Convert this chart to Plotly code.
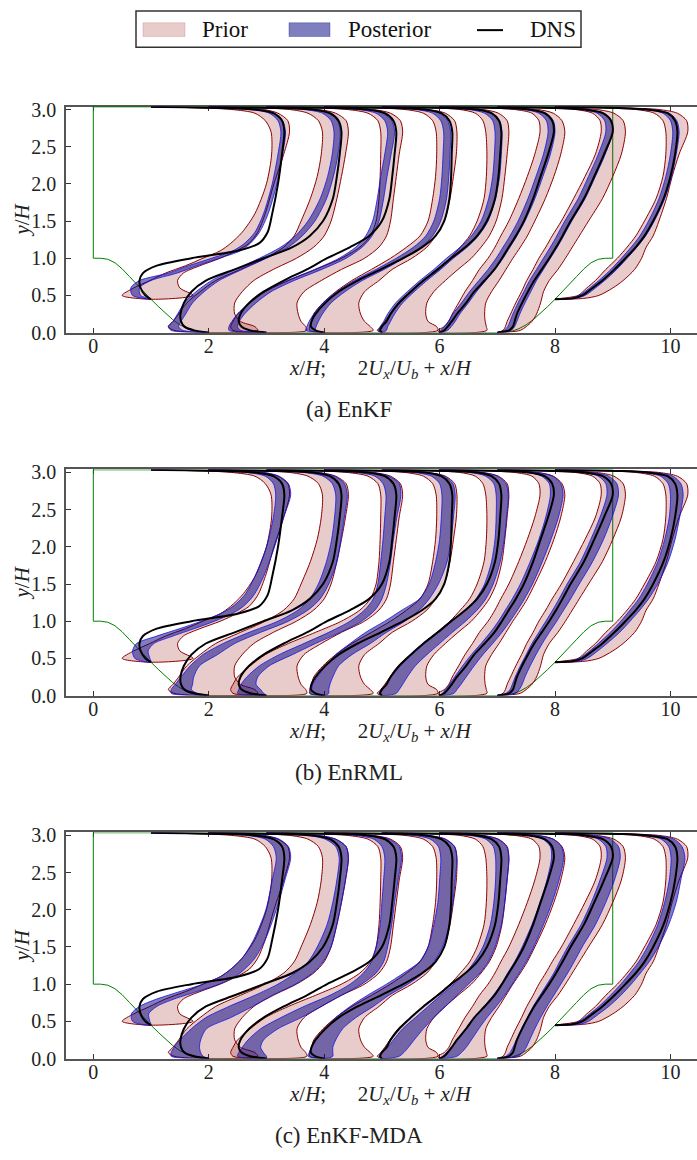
import plotly.graph_objects as go

FIG_W, FIG_H = 697, 1160
FONT = "Liberation Serif"

# ---------------- data ----------------
# profile stations x/H
x_stations = [1, 2, 3, 4, 5, 6, 7, 8]

# y/H sampling of the profiles
y_st1 = [0.448, 0.5, 0.6, 0.7, 0.8, 0.9, 1.0, 1.1, 1.2, 1.35, 1.6, 2.0, 2.4, 2.7, 2.85, 2.95, 3.0, 3.02, 3.036]
y_flat = [0.0, 0.03, 0.08, 0.15, 0.25, 0.4, 0.55, 0.7, 0.85, 1.0, 1.15, 1.3, 1.5, 1.8, 2.1, 2.4, 2.7, 2.85,
          2.95, 3.0, 3.02, 3.036]
y_st8 = [0.448, 0.46, 0.5, 0.6, 0.7, 0.85, 1.0, 1.15, 1.3, 1.5, 1.8, 2.1, 2.4, 2.7, 2.85, 2.95, 3.0, 3.02, 3.036]
y_grids = [y_st1, y_flat, y_flat, y_flat, y_flat, y_flat, y_flat, y_st8]

# DNS, scaled velocity 2Ux/Ub
dns_2u = [
    [0, -0.1, -0.18, -0.2, -0.14, 0.1, 0.7, 1.5, 1.87, 2.02, 2.1, 2.2, 2.27, 2.31, 2.27, 2.12, 1.8, 1.2, 0],
    [0, -0.25, -0.42, -0.48, -0.49, -0.43, -0.3, -0.05, 0.45, 0.95, 1.45, 1.75, 1.98, 2.15, 2.22, 2.27, 2.3, 2.25, 2.1, 1.8, 1.2, 0],
    [0, -0.28, -0.43, -0.48, -0.45, -0.3, -0.05, 0.3, 0.7, 1.05, 1.45, 1.78, 2.0, 2.13, 2.18, 2.22, 2.25, 2.2, 2.05, 1.75, 1.2, 0],
    [0, -0.15, -0.23, -0.22, -0.15, 0.02, 0.25, 0.58, 0.98, 1.37, 1.7, 1.93, 2.08, 2.17, 2.2, 2.21, 2.22, 2.17, 2.03, 1.75, 1.2, 0],
    [0, -0.03, 0.0, 0.08, 0.15, 0.3, 0.5, 0.72, 0.97, 1.2, 1.45, 1.65, 1.82, 1.96, 2.02, 2.05, 2.07, 2.03, 1.9, 1.65, 1.15, 0],
    [0, 0.08, 0.14, 0.21, 0.3, 0.46, 0.6, 0.78, 0.95, 1.08, 1.2, 1.32, 1.46, 1.62, 1.75, 1.88, 1.98, 1.95, 1.82, 1.55, 1.05, 0],
    [0, 0.2, 0.27, 0.3, 0.34, 0.43, 0.53, 0.64, 0.77, 0.9, 1.02, 1.13, 1.27, 1.5, 1.68, 1.85, 2.0, 1.97, 1.83, 1.52, 1.02, 0],
    [0, 0.3, 0.47, 0.65, 0.82, 1.03, 1.22, 1.4, 1.55, 1.7, 1.88, 2.0, 2.08, 2.12, 2.08, 1.95, 1.6, 1.1, 0],
]

# prior ensemble envelope (2Ux/Ub)
prior_lo = [
    [0, -0.5, -0.3, -0.02, 0.25, 0.6, 0.9, 1.2, 1.38, 1.58, 1.8, 2.0, 2.09, 2.08, 1.98, 1.8, 1.4, 0.9, 0],
    [0, -0.6, -0.7, -0.62, -0.52, -0.38, -0.15, 0.12, 0.55, 0.98, 1.3, 1.48, 1.6, 1.76, 1.88, 1.95, 1.97, 1.9, 1.72, 1.4, 0.9, 0],
    [0, -0.58, -0.62, -0.58, -0.5, -0.28, -0.02, 0.38, 0.85, 1.3, 1.62, 1.8, 1.9, 1.95, 1.97, 1.98, 1.98, 1.93, 1.76, 1.4, 0.9, 0],
    [0, -0.25, -0.25, -0.22, -0.18, -0.02, 0.2, 0.48, 0.82, 1.15, 1.43, 1.66, 1.8, 1.88, 1.93, 1.95, 1.94, 1.88, 1.72, 1.4, 0.9, 0],
    [0, -0.08, -0.02, 0.05, 0.14, 0.28, 0.5, 0.72, 0.95, 1.18, 1.36, 1.52, 1.65, 1.77, 1.81, 1.82, 1.8, 1.75, 1.62, 1.35, 0.9, 0],
    [0, -0.03, 0.08, 0.16, 0.22, 0.33, 0.44, 0.57, 0.69, 0.84, 0.96, 1.06, 1.2, 1.37, 1.52, 1.65, 1.74, 1.72, 1.6, 1.3, 0.85, 0],
    [0, 0.1, 0.14, 0.17, 0.23, 0.32, 0.42, 0.51, 0.62, 0.72, 0.84, 0.95, 1.11, 1.32, 1.52, 1.7, 1.8, 1.78, 1.65, 1.35, 0.9, 0],
    [0, 0.1, 0.4, 0.55, 0.7, 0.88, 1.08, 1.25, 1.4, 1.55, 1.75, 1.87, 1.92, 1.92, 1.87, 1.72, 1.4, 0.9, 0],
]
prior_hi = [
    [0, 0.73, 0.5, 0.46, 0.56, 0.85, 1.2, 1.48, 1.7, 1.85, 1.98, 2.13, 2.3, 2.4, 2.37, 2.2, 1.95, 1.4, 0],
    [0, 0.85, 0.8, 0.55, 0.45, 0.45, 0.58, 0.78, 1.12, 1.52, 1.82, 2.0, 2.12, 2.22, 2.3, 2.37, 2.42, 2.38, 2.2, 1.9, 1.35, 0],
    [0, 0.7, 0.68, 0.6, 0.55, 0.53, 0.65, 0.95, 1.3, 1.7, 1.95, 2.08, 2.15, 2.2, 2.25, 2.3, 2.36, 2.32, 2.15, 1.85, 1.3, 0],
    [0, 0.85, 0.8, 0.7, 0.63, 0.6, 0.7, 0.95, 1.18, 1.52, 1.78, 1.93, 2.08, 2.18, 2.24, 2.29, 2.3, 2.26, 2.1, 1.8, 1.3, 0],
    [0, 0.97, 0.95, 0.8, 0.76, 0.78, 0.9, 1.1, 1.32, 1.55, 1.72, 1.86, 1.98, 2.08, 2.13, 2.17, 2.2, 2.17, 2.02, 1.75, 1.25, 0],
    [0, 0.82, 0.81, 0.79, 0.78, 0.8, 0.9, 1.03, 1.15, 1.27, 1.4, 1.52, 1.65, 1.83, 1.98, 2.1, 2.17, 2.12, 1.97, 1.7, 1.2, 0],
    [0, 0.4, 0.5, 0.6, 0.68, 0.75, 0.8, 0.9, 1.05, 1.18, 1.3, 1.42, 1.58, 1.82, 2.0, 2.15, 2.22, 2.18, 2.02, 1.72, 1.2, 0],
    [0, 0.5, 0.76, 1.0, 1.18, 1.38, 1.5, 1.58, 1.7, 1.8, 1.93, 2.03, 2.15, 2.3, 2.28, 2.12, 1.8, 1.25, 0],
]

# posterior envelopes, EnKF
enkf_lo = [
    [0, -0.32, -0.35, -0.2, 0.3, 0.65, 1.05, 1.42, 1.62, 1.8, 1.95, 2.1, 2.2, 2.25, 2.2, 2.05, 1.7, 1.1, 0],
    [0, -0.65, -0.7, -0.62, -0.54, -0.42, -0.22, 0.05, 0.45, 0.88, 1.25, 1.5, 1.72, 1.93, 2.06, 2.14, 2.17, 2.12, 1.97, 1.65, 1.08, 0],
    [0, -0.65, -0.65, -0.6, -0.5, -0.3, -0.04, 0.36, 0.84, 1.26, 1.55, 1.72, 1.84, 1.92, 1.98, 2.05, 2.1, 2.05, 1.9, 1.58, 1.02, 0],
    [0, -0.32, -0.3, -0.26, -0.18, -0.02, 0.22, 0.52, 0.9, 1.25, 1.55, 1.76, 1.9, 2.0, 2.04, 2.06, 2.07, 2.02, 1.88, 1.58, 1.02, 0],
    [0, -0.06, -0.03, 0.03, 0.1, 0.24, 0.44, 0.66, 0.9, 1.12, 1.36, 1.55, 1.72, 1.85, 1.92, 1.95, 1.96, 1.92, 1.78, 1.5, 0.98, 0],
    [0, 0.02, 0.08, 0.15, 0.23, 0.38, 0.52, 0.68, 0.84, 0.98, 1.1, 1.22, 1.36, 1.53, 1.67, 1.8, 1.88, 1.85, 1.72, 1.45, 0.95, 0],
    [0, 0.12, 0.18, 0.22, 0.27, 0.36, 0.46, 0.56, 0.68, 0.8, 0.92, 1.03, 1.17, 1.4, 1.58, 1.75, 1.88, 1.86, 1.73, 1.44, 0.95, 0],
    [0, 0.25, 0.42, 0.6, 0.76, 0.97, 1.15, 1.32, 1.47, 1.62, 1.8, 1.92, 2.0, 2.04, 2.0, 1.87, 1.52, 1.02, 0],
]
enkf_hi = [
    [0, -0.18, -0.2, 0.0, 0.45, 0.8, 1.18, 1.55, 1.72, 1.88, 2.03, 2.18, 2.28, 2.33, 2.28, 2.14, 1.8, 1.25, 0],
    [0, -0.45, -0.52, -0.48, -0.4, -0.28, -0.08, 0.18, 0.58, 1.0, 1.38, 1.62, 1.84, 2.04, 2.16, 2.24, 2.28, 2.23, 2.08, 1.77, 1.2, 0],
    [0, -0.45, -0.5, -0.47, -0.38, -0.18, 0.08, 0.48, 0.96, 1.38, 1.66, 1.83, 1.95, 2.03, 2.09, 2.16, 2.22, 2.17, 2.02, 1.72, 1.15, 0],
    [0, -0.15, -0.14, -0.1, -0.03, 0.12, 0.36, 0.66, 1.04, 1.38, 1.68, 1.88, 2.02, 2.12, 2.16, 2.18, 2.19, 2.14, 2.0, 1.7, 1.15, 0],
    [0, 0.08, 0.1, 0.15, 0.22, 0.36, 0.56, 0.78, 1.02, 1.24, 1.48, 1.67, 1.84, 1.97, 2.04, 2.07, 2.08, 2.04, 1.9, 1.62, 1.1, 0],
    [0, 0.14, 0.2, 0.27, 0.35, 0.5, 0.64, 0.8, 0.96, 1.1, 1.22, 1.34, 1.48, 1.65, 1.79, 1.92, 2.0, 1.97, 1.84, 1.57, 1.07, 0],
    [0, 0.24, 0.3, 0.34, 0.39, 0.48, 0.58, 0.68, 0.8, 0.92, 1.04, 1.15, 1.29, 1.52, 1.7, 1.87, 2.0, 1.98, 1.85, 1.56, 1.07, 0],
    [0, 0.35, 0.52, 0.7, 0.86, 1.07, 1.25, 1.42, 1.57, 1.72, 1.9, 2.02, 2.1, 2.15, 2.11, 1.98, 1.63, 1.13, 0],
]

# posterior envelopes, EnRML
enrml_lo = [
    [0, -0.28, -0.32, -0.25, 0.1, 0.5, 0.87, 1.2, 1.42, 1.62, 1.8, 2.0, 2.12, 2.16, 2.12, 1.98, 1.65, 1.1, 0],
    [0, -0.65, -0.65, -0.58, -0.48, -0.32, -0.1, 0.25, 0.7, 1.2, 1.55, 1.75, 1.9, 2.04, 2.13, 2.18, 2.2, 2.14, 1.98, 1.65, 1.1, 0],
    [0, -0.5, -0.48, -0.44, -0.34, -0.12, 0.22, 0.65, 1.08, 1.45, 1.7, 1.85, 1.93, 1.98, 2.02, 2.05, 2.07, 2.02, 1.88, 1.55, 1.0, 0],
    [0, -0.25, -0.22, -0.2, -0.12, 0.03, 0.2, 0.45, 0.72, 1.05, 1.35, 1.65, 1.82, 1.93, 2.0, 2.03, 2.04, 2.0, 1.86, 1.55, 1.0, 0],
    [0, -0.05, 0.0, 0.08, 0.16, 0.32, 0.52, 0.74, 0.98, 1.22, 1.45, 1.63, 1.78, 1.9, 1.96, 1.98, 1.98, 1.94, 1.8, 1.52, 1.0, 0],
    [0, 0.05, 0.1, 0.17, 0.26, 0.4, 0.55, 0.72, 0.88, 1.02, 1.14, 1.26, 1.4, 1.57, 1.72, 1.84, 1.92, 1.9, 1.77, 1.5, 1.0, 0],
    [0, 0.15, 0.22, 0.26, 0.31, 0.4, 0.5, 0.6, 0.72, 0.84, 0.96, 1.07, 1.21, 1.44, 1.62, 1.78, 1.9, 1.88, 1.75, 1.47, 0.98, 0],
    [0, 0.25, 0.42, 0.6, 0.75, 0.96, 1.14, 1.3, 1.45, 1.6, 1.78, 1.9, 1.98, 2.0, 1.96, 1.83, 1.48, 1.0, 0],
]
enrml_hi = [
    [0, -0.02, -0.05, 0.05, 0.38, 0.75, 1.1, 1.4, 1.6, 1.78, 1.95, 2.14, 2.3, 2.42, 2.38, 2.22, 1.95, 1.4, 0],
    [0, -0.2, -0.3, -0.28, -0.26, -0.16, 0.15, 0.45, 0.9, 1.38, 1.72, 1.93, 2.08, 2.22, 2.29, 2.35, 2.4, 2.35, 2.18, 1.88, 1.35, 0],
    [0, -0.05, -0.1, -0.18, -0.15, 0.05, 0.45, 0.85, 1.28, 1.65, 1.88, 2.0, 2.08, 2.15, 2.2, 2.26, 2.33, 2.3, 2.12, 1.82, 1.28, 0],
    [0, 0.08, 0.08, 0.1, 0.15, 0.25, 0.48, 0.8, 1.08, 1.4, 1.65, 1.82, 1.98, 2.13, 2.2, 2.24, 2.27, 2.23, 2.08, 1.78, 1.25, 0],
    [0, 0.25, 0.3, 0.36, 0.44, 0.58, 0.78, 1.0, 1.22, 1.45, 1.65, 1.8, 1.93, 2.05, 2.12, 2.16, 2.19, 2.15, 2.0, 1.72, 1.2, 0],
    [0, 0.25, 0.3, 0.37, 0.46, 0.6, 0.75, 0.92, 1.08, 1.22, 1.35, 1.47, 1.61, 1.78, 1.93, 2.06, 2.14, 2.1, 1.96, 1.68, 1.16, 0],
    [0, 0.32, 0.38, 0.43, 0.48, 0.57, 0.67, 0.78, 0.9, 1.03, 1.15, 1.27, 1.42, 1.65, 1.84, 1.99, 2.1, 2.07, 1.93, 1.64, 1.13, 0],
    [0, 0.4, 0.56, 0.74, 0.9, 1.12, 1.3, 1.47, 1.62, 1.78, 1.96, 2.08, 2.16, 2.22, 2.18, 2.04, 1.7, 1.17, 0],
]

# posterior envelopes, EnKF-MDA
mda_lo = [
    [0, -0.32, -0.34, -0.2, 0.1, 0.5, 0.9, 1.2, 1.38, 1.58, 1.78, 1.99, 2.1, 2.17, 2.12, 1.98, 1.65, 1.1, 0],
    [0, -0.65, -0.65, -0.6, -0.5, -0.3, -0.05, 0.35, 0.8, 1.2, 1.5, 1.72, 1.88, 2.05, 2.15, 2.22, 2.26, 2.2, 2.02, 1.7, 1.15, 0],
    [0, -0.5, -0.48, -0.42, -0.32, -0.1, 0.25, 0.65, 1.1, 1.45, 1.68, 1.82, 1.9, 1.97, 2.0, 2.03, 2.05, 2.0, 1.86, 1.55, 1.0, 0],
    [0, -0.28, -0.26, -0.22, -0.14, 0.02, 0.2, 0.45, 0.75, 1.08, 1.38, 1.65, 1.8, 1.9, 1.97, 2.0, 2.02, 1.98, 1.84, 1.55, 1.0, 0],
    [0, -0.05, 0.0, 0.1, 0.2, 0.36, 0.58, 0.8, 1.02, 1.25, 1.45, 1.6, 1.75, 1.88, 1.94, 1.97, 1.97, 1.93, 1.8, 1.52, 1.0, 0],
    [0, 0.05, 0.12, 0.2, 0.3, 0.45, 0.6, 0.77, 0.93, 1.07, 1.18, 1.3, 1.43, 1.6, 1.74, 1.86, 1.94, 1.92, 1.79, 1.52, 1.02, 0],
    [0, 0.15, 0.22, 0.27, 0.33, 0.42, 0.52, 0.62, 0.74, 0.86, 0.98, 1.08, 1.22, 1.45, 1.63, 1.78, 1.9, 1.88, 1.75, 1.47, 0.98, 0],
    [0, 0.25, 0.42, 0.6, 0.76, 0.96, 1.14, 1.3, 1.45, 1.6, 1.78, 1.9, 1.98, 2.01, 1.97, 1.84, 1.5, 1.0, 0],
]
mda_hi = [
    [0, -0.02, -0.04, 0.1, 0.4, 0.8, 1.18, 1.45, 1.62, 1.8, 1.98, 2.17, 2.32, 2.42, 2.38, 2.22, 1.95, 1.4, 0],
    [0, -0.1, -0.14, -0.16, -0.14, -0.04, 0.38, 0.76, 1.1, 1.5, 1.8, 1.98, 2.12, 2.22, 2.3, 2.37, 2.42, 2.38, 2.2, 1.9, 1.35, 0],
    [0, 0.0, -0.05, -0.1, -0.05, 0.2, 0.6, 0.95, 1.3, 1.65, 1.9, 2.03, 2.1, 2.17, 2.22, 2.28, 2.34, 2.3, 2.12, 1.82, 1.28, 0],
    [0, 0.15, 0.15, 0.15, 0.2, 0.32, 0.55, 0.85, 1.12, 1.45, 1.72, 1.9, 2.05, 2.17, 2.23, 2.27, 2.3, 2.26, 2.1, 1.8, 1.27, 0],
    [0, 0.3, 0.38, 0.46, 0.56, 0.72, 0.9, 1.1, 1.3, 1.5, 1.7, 1.84, 1.96, 2.07, 2.13, 2.17, 2.2, 2.16, 2.01, 1.73, 1.22, 0],
    [0, 0.3, 0.38, 0.46, 0.55, 0.68, 0.82, 0.98, 1.13, 1.26, 1.38, 1.5, 1.63, 1.8, 1.95, 2.07, 2.15, 2.11, 1.97, 1.69, 1.17, 0],
    [0, 0.36, 0.44, 0.5, 0.56, 0.65, 0.75, 0.86, 0.98, 1.1, 1.22, 1.33, 1.47, 1.7, 1.88, 2.03, 2.13, 2.1, 1.96, 1.67, 1.15, 0],
    [0, 0.42, 0.58, 0.76, 0.93, 1.14, 1.32, 1.48, 1.63, 1.79, 1.97, 2.1, 2.18, 2.25, 2.2, 2.06, 1.72, 1.18, 0],
]

# periodic-hill geometry (crest at x=0, channel length 9, top wall 3.036)
hill_x = [0, 0.125, 0.25, 0.375, 0.5, 0.625, 0.75, 0.875, 1.0, 1.125, 1.25, 1.375, 1.5, 1.625, 1.75, 1.93]
hill_y = [1.0, 1.0, 0.986, 0.939, 0.857, 0.755, 0.648, 0.546, 0.448, 0.352, 0.259, 0.175, 0.105, 0.053, 0.018, 0.0]
channel_len = 9.0
channel_top = 3.036

captions = ["(a) EnKF", "(b) EnRML", "(c) EnKF-MDA"]
x_ticks = [0, 2, 4, 6, 8, 10]
y_ticks = [0.0, 0.5, 1.0, 1.5, 2.0, 2.5, 3.0]
y_ticktext = ["0.0", "0.5", "1.0", "1.5", "2.0", "2.5", "3.0"]

# ---------------- styles ----------------
PRIOR_FILL = "rgba(139,0,0,0.2)"
PRIOR_EDGE = "rgb(139,0,0)"
POST_FILL = "rgba(0,0,128,0.5)"
POST_EDGE = "rgb(20,20,230)"
GEOM = "rgb(0,128,0)"

# ---------------- figure ----------------
fig = go.Figure()

geom_x = [0] + hill_x + [channel_len - v for v in hill_x[::-1]] + [channel_len, 0]
geom_y = [channel_top] + hill_y + hill_y[::-1] + [channel_top, channel_top]

posteriors = [(enkf_lo, enkf_hi), (enrml_lo, enrml_hi), (mda_lo, mda_hi)]

PX_PER_Y = 75.6
y_range = [0, 3.04]
panel_bottom_px = [330, 699, 1068]
x_left_px = 66


def band_xy(x0, ys, lo, hi):
    bx = [x0 + v for v in lo] + [x0 + v for v in hi[::-1]]
    by = list(ys) + list(ys[::-1])
    return bx, by


layout_axes = {}
annotations = []
for k in range(3):
    xa = "x" if k == 0 else f"x{k + 1}"
    ya = "y" if k == 0 else f"y{k + 1}"
    post_lo, post_hi = posteriors[k]

    fig.add_trace(go.Scatter(x=geom_x, y=geom_y, mode="lines", line=dict(color=GEOM, width=1),
                             xaxis=xa, yaxis=ya, hoverinfo="skip", showlegend=False))
    for i, x0 in enumerate(x_stations):
        bx, by = band_xy(x0, y_grids[i], prior_lo[i], prior_hi[i])
        fig.add_trace(go.Scatter(x=bx, y=by, mode="lines", fill="toself", fillcolor=PRIOR_FILL,
                                 line=dict(color=PRIOR_EDGE, width=1, shape="spline", smoothing=0.8),
                                 xaxis=xa, yaxis=ya, hoverinfo="skip", showlegend=False))
    for i, x0 in enumerate(x_stations):
        bx, by = band_xy(x0, y_grids[i], post_lo[i], post_hi[i])
        fig.add_trace(go.Scatter(x=bx, y=by, mode="lines", fill="toself", fillcolor=POST_FILL,
                                 line=dict(color=POST_EDGE, width=0.8, shape="spline", smoothing=0.8),
                                 xaxis=xa, yaxis=ya, hoverinfo="skip", showlegend=False))
    for i, x0 in enumerate(x_stations):
        fig.add_trace(go.Scatter(x=[x0 + v for v in dns_2u[i]], y=y_grids[i], mode="lines",
                                 line=dict(color="black", width=2, shape="spline", smoothing=0.8),
                                 xaxis=xa, yaxis=ya, hoverinfo="skip", showlegend=False))

    bot = panel_bottom_px[k]
    top = bot - (y_range[1] - y_range[0]) * PX_PER_Y
    xkey = "xaxis" if k == 0 else f"xaxis{k + 1}"
    ykey = "yaxis" if k == 0 else f"yaxis{k + 1}"
    layout_axes[xkey] = dict(
        domain=[x_left_px / FIG_W, 1.0], anchor=ya, range=[-0.473, 10.46],
        tickvals=x_ticks, ticks="inside", ticklen=5, tickwidth=1, tickcolor="#333",
        showline=True, linecolor="#555", linewidth=1.5, mirror="ticks",
        showgrid=False, zeroline=False, layer="below traces",
        tickfont=dict(family=FONT, size=20, color="#222"), ticklabelstandoff=-5,
    )
    layout_axes[ykey] = dict(
        domain=[1 - bot / FIG_H, 1 - top / FIG_H], anchor=xa, range=y_range,
        tickvals=y_ticks, ticktext=y_ticktext, ticks="inside", ticklen=5, tickwidth=1,
        tickcolor="#333", showline=True, linecolor="#555", linewidth=1.5, mirror=False,
        showgrid=False, zeroline=False, layer="below traces",
        tickfont=dict(family=FONT, size=20, color="#222"), ticklabelstandoff=4,
    )

    annotations.append(dict(
        text="<i>y</i>/<i>H</i>", x=22 / FIG_W, y=1 - ((bot + top) / 2) / FIG_H,
        xref="paper", yref="paper", showarrow=False, textangle=-90,
        font=dict(family=FONT, size=21, color="#222"), xanchor="center", yanchor="middle"))
    annotations.append(dict(
        text="<i>x</i>/<i>H</i>;\u00a0\u00a0\u00a0\u00a0\u00a0 2<i>U<sub>x</sub></i>/<i>U<sub>b</sub></i> + <i>x</i>/<i>H</i>",
        x=381 / FIG_W, y=1 - (bot + 37) / FIG_H, xref="paper", yref="paper", showarrow=False,
        font=dict(family=FONT, size=21, color="#222"), xanchor="center", yanchor="middle"))
    annotations.append(dict(
        text=captions[k], x=349 / FIG_W, y=1 - (bot + 78) / FIG_H, xref="paper", yref="paper",
        showarrow=False, font=dict(family=FONT, size=23, color="#222"),
        xanchor="center", yanchor="middle"))

# ---------------- manual legend ----------------
def px(xp):
    return xp / FIG_W


def py(yp):
    return 1 - yp / FIG_H


shapes = [
    dict(type="rect", xref="paper", yref="paper", x0=px(136), x1=px(581), y0=py(40), y1=py(3),
         line=dict(color="#333", width=1.5), fillcolor="white"),
    dict(type="rect", xref="paper", yref="paper", x0=px(143), x1=px(185), y0=py(29), y1=py(15),
         line=dict(color="rgba(139,0,0,0.15)", width=1), fillcolor=PRIOR_FILL),
    dict(type="rect", xref="paper", yref="paper", x0=px(289), x1=px(330), y0=py(29), y1=py(15),
         line=dict(color="rgba(0,0,128,0.3)", width=1), fillcolor=POST_FILL),
    dict(type="line", xref="paper", yref="paper", x0=px(477), x1=px(503), y0=py(22.5), y1=py(22.5),
         line=dict(color="black", width=2)),
]
for label, xp in [("Prior", 200), ("Posterior", 346), ("DNS", 528)]:
    annotations.append(dict(text=label, x=px(xp), y=py(22), xref="paper", yref="paper",
                            showarrow=False, xanchor="left", yanchor="middle",
                            font=dict(family=FONT, size=23, color="#111")))

fig.update_layout(
    width=FIG_W, height=FIG_H,
    margin=dict(l=0, r=0, t=0, b=0),
    paper_bgcolor="white", plot_bgcolor="white",
    showlegend=False,
    font=dict(family=FONT, color="#222"),
    annotations=annotations,
    shapes=shapes,
    **layout_axes,
)

fig.write_html(
    "out.html",
    config={"displayModeBar": False},
    post_script="document.documentElement.style.margin='0';document.body.style.margin='0';"
                "document.body.style.padding='0';document.body.style.overflow='hidden';",
)
